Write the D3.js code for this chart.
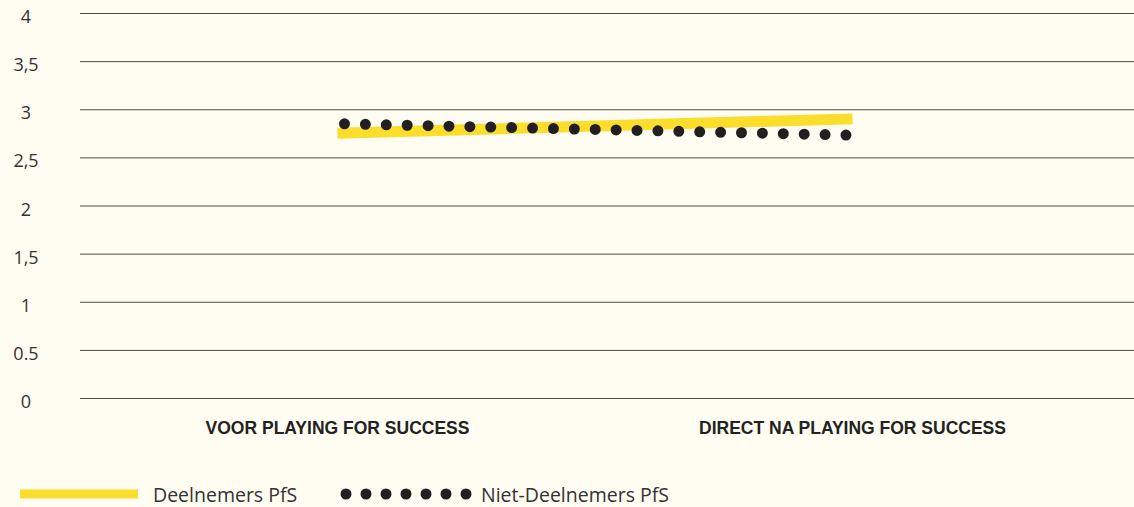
<!DOCTYPE html>
<html>
<head>
<meta charset="utf-8">
<script src="https://cdn.jsdelivr.net/npm/d3@7"></script>
<style>
body { margin: 0; background: #fffdf2; }
svg { display: block; }
</style>
</head>
<body>
<svg></svg>
<script>
const width = 1134;
const height = 507;

// data
const categories = ['VOOR PLAYING FOR SUCCESS', 'DIRECT NA PLAYING FOR SUCCESS'];
const deelnemers = [2.75, 2.9];
const nietDeelnemers = [2.85, 2.73];
const yTicks = [0, 0.5, 1, 1.5, 2, 2.5, 3, 3.5, 4];
const yTickLabels = ['0', '0.5', '1', '1,5', '2', '2,5', '3', '3,5', '4'];
const seriesNames = ['Deelnemers PfS', 'Niet-Deelnemers PfS'];

const svg = d3.select('svg').attr('width', width).attr('height', height);

const x = d3.scaleBand().domain(categories).range([80, 1110]);
const y = d3.scaleLinear().domain([0, 4]).range([398, 13]);

// grid lines
svg.append('g').selectAll('line')
    .data(yTicks).enter().append('line')
    .attr('x1', 80).attr('x2', width)
    .attr('y1', d => y(d) + 0.5).attr('y2', d => y(d) + 0.5)
    .style('stroke', '#4a4a4a')
    .style('stroke-width', 1);

// tick labels
svg.append('g').selectAll('text')
    .data(yTicks).enter().append('text')
    .attr('x', 26).attr('y', d => y(d) + 10)
    .attr('text-anchor', 'middle')
    .style('font-family', '"Open Sans", sans-serif')
    .style('font-size', '18px')
    .style('fill', '#333')
    .text((d, i) => yTickLabels[i]);

// category labels
svg.append('g').selectAll('text')
    .data(categories).enter().append('text')
    .attr('x', d => x(d) + x.bandwidth() / 2)
    .attr('y', 434)
    .attr('text-anchor', 'middle')
    .style('font-family', '"Liberation Sans Narrow", "Arial Narrow", sans-serif')
    .style('font-weight', 'bold')
    .style('font-size', '17.5px')
    .style('fill', '#222')
    .text(d => d);

const line = d3.line()
    .x((d, i) => x(categories[i]) + x.bandwidth() / 2)
    .y(d => y(d));

svg.append('path')
    .datum(deelnemers)
    .attr('d', line)
    .style('fill', 'none')
    .style('stroke', '#fbdd2b')
    .style('stroke-width', 11);

svg.append('path')
    .datum(nietDeelnemers)
    .attr('d', line)
    .style('fill', 'none')
    .style('stroke', '#231f20')
    .style('stroke-width', 11)
    .style('stroke-linecap', 'round')
    .style('stroke-dasharray', '0 20.9')
    .style('stroke-dashoffset', -7);

// legend
const legend = svg.append('g');
legend.append('line')
    .attr('x1', 20).attr('x2', 138)
    .attr('y1', 494).attr('y2', 494)
    .style('stroke', '#fbdd2b')
    .style('stroke-width', 9);
legend.append('text')
    .attr('x', 153).attr('y', 502)
    .style('font-family', '"Open Sans", sans-serif')
    .style('font-size', '19.5px')
    .style('fill', '#333')
    .text(seriesNames[0]);
legend.append('line')
    .attr('x1', 346).attr('x2', 468)
    .attr('y1', 494).attr('y2', 494)
    .style('stroke', '#231f20')
    .style('stroke-width', 11)
    .style('stroke-linecap', 'round')
    .style('stroke-dasharray', '0 20');
legend.append('text')
    .attr('x', 481).attr('y', 502)
    .style('font-family', '"Open Sans", sans-serif')
    .style('font-size', '19.5px')
    .style('fill', '#333')
    .text(seriesNames[1]);
</script>
</body>
</html>
